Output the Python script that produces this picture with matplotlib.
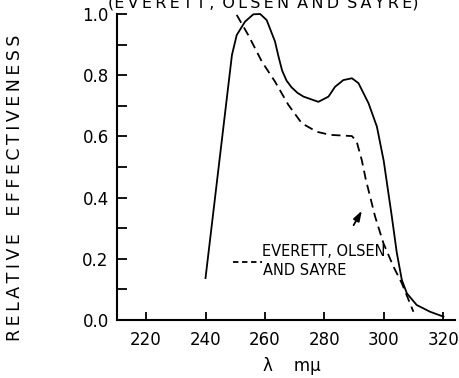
import matplotlib
matplotlib.use("Agg")
import matplotlib.pyplot as plt

# Action spectrum (solid) and Everett, Olsen and Sayre curve (dashed)
wavelength_solid = [240.0, 248.9, 250.5, 253.3, 256.1, 258.4, 260.6, 263.4, 264.6,
                    265.8, 267.3, 269.0, 271.0, 273.0, 278.0, 281.4, 283.6, 286.4,
                    289.3, 291.5, 294.9, 297.7, 300.0, 302.7, 304.4, 306.1, 307.8,
                    311.1, 315.6, 320.1]
effect_solid = [0.137, 0.866, 0.931, 0.975, 0.999, 1.0, 0.98, 0.91, 0.86,
                0.815, 0.782, 0.76, 0.742, 0.73, 0.713, 0.73, 0.762, 0.784,
                0.79, 0.774, 0.708, 0.632, 0.52, 0.34, 0.22, 0.131, 0.087,
                0.049, 0.027, 0.011]

wavelength_dashed = [250.5, 254.4, 259.0, 263.4, 267.9, 272.4, 277.5, 282.0, 289.3,
                     290.9, 292.6, 294.0, 297.1, 299.9, 303.3, 306.1, 310.0]
effect_dashed = [0.997, 0.931, 0.844, 0.779, 0.703, 0.643, 0.615, 0.605, 0.601,
                 0.583, 0.523, 0.458, 0.338, 0.251, 0.174, 0.12, 0.027]

x_ticks = [220, 240, 260, 280, 300, 320]
y_ticks = [0.0, 0.2, 0.4, 0.6, 0.8, 1.0]
y_minor = [0.1, 0.3, 0.5, 0.7, 0.9]


def spaced(s, gap="\u2009"):
    return gap.join(s)


fig = plt.figure(figsize=(4.6, 3.78), dpi=100)
ax = fig.add_axes([117 / 460, 58 / 378, 338 / 460, 306 / 378])

lw = 1.3
ax.plot(wavelength_solid, effect_solid, color="black", lw=lw, clip_on=False,
        solid_joinstyle="round")
ax.plot(wavelength_dashed, effect_dashed, color="black", lw=lw,
        dashes=(5, 3), clip_on=False)

ax.set_xlim(210.2, 324.0)
ax.set_ylim(0, 1.0)

for side in ("top", "right"):
    ax.spines[side].set_visible(False)
for side in ("left", "bottom"):
    ax.spines[side].set_linewidth(1.5)

ax.set_xticks(x_ticks)
ax.set_yticks(y_ticks)
ax.set_yticklabels([f"{v:.1f}" for v in y_ticks])
ax.set_yticks(y_minor, minor=True)
ax.tick_params(axis="both", which="both", direction="in", width=1.3,
               labelsize=12, colors="black")
ax.tick_params(axis="y", which="both", length=7, pad=6)
ax.tick_params(axis="x", which="major", length=6, pad=8)

# Legend note for the dashed curve
ax.plot([249.3, 258.9], [0.19, 0.19], color="black", lw=lw, dashes=(3, 2))
ax.text(259.1, 0.209, "EVERETT, OLSEN", fontsize=10.5, ha="left",
        va="baseline")
ax.text(259.4, 0.147, "AND SAYRE", fontsize=10.5, ha="left", va="baseline")
ax.annotate("", xy=(293.1, 0.365), xytext=(289.4, 0.302),
            arrowprops=dict(arrowstyle="-|>,head_length=0.6,head_width=0.2",
                            color="black", lw=1.3))

fig.text(15 / 460, (378 - 188) / 378,
         spaced("RELATIVE") + "\u2002\u2002" + spaced("EFFECTIVENESS"),
         rotation=90, fontsize=12.5, ha="center", va="center")
fig.text(292 / 460, (378 - 366) / 378, "λ    mμ", fontsize=12,
         ha="center", va="center")
fig.text(263 / 460, 371 / 378,
         "(" + spaced("EVERETT,") + "\u2002" + spaced("OLSEN") + "\u2002"
         + spaced("AND") + "\u2002" + spaced("SAYRE") + ")",
         fontsize=11.5, ha="center", va="baseline")

fig.savefig("out.png", dpi=100, facecolor="white")
